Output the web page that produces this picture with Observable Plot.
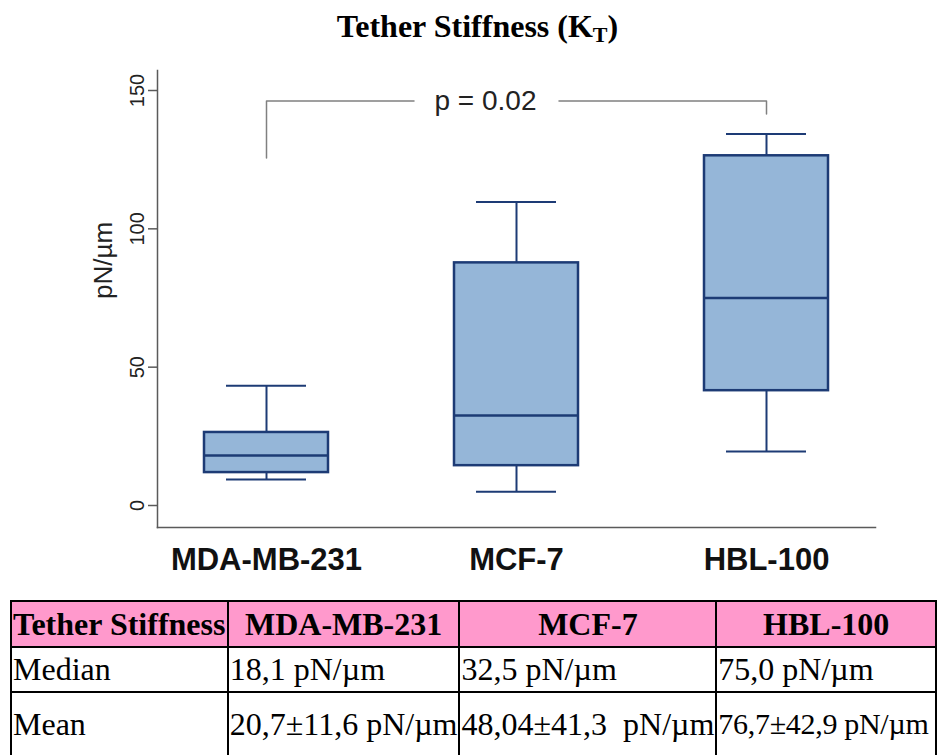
<!DOCTYPE html>
<html>
<head>
<meta charset="utf-8">
<script src="https://cdn.jsdelivr.net/npm/d3@7"></script>
<script src="https://cdn.jsdelivr.net/npm/@observablehq/plot@0.6"></script>
<style>
  html, body { margin: 0; padding: 0; background: #fff; overflow: hidden; }
  body { width: 937px; height: 755px; position: relative; }
  #title { height: 50px; line-height: 52px; text-align: center; padding-left: 18px; font-family: "Liberation Serif", "Times New Roman", serif; font-weight: bold; font-size: 32px; color: #000; }
  #title sub { font-size: 22px; vertical-align: -5px; line-height: 0; }
  #chart svg { display: block; }
  table { border-collapse: collapse; margin-left: 10px; margin-top: 20px; font-family: "Liberation Serif", "Times New Roman", serif; font-size: 32px; table-layout: fixed; }
  td, th { border: 2px solid #000; padding: 0 1px; white-space: pre; overflow: hidden; }
  th { background: #ff99cc; font-weight: bold; height: 44px; }
  th.first { text-align: left; }
  tr.r1 td { height: 43px; }
  tr.r2 td { height: 62px; }
  tr.r2 td:last-child { font-size: 30px; letter-spacing: -0.3px; }
</style>
</head>
<body>
<div id="title">Tether Stiffness (K<sub>T</sub>)</div>
<div id="chart"></div>
<table id="tbl"></table>
<script>
// ---- data ----
const categories = ["MDA-MB-231", "MCF-7", "HBL-100"];
const whiskerLow  = [9.4, 5.0, 19.5];
const q1          = [11.9, 14.4, 41.5];
const median      = [18.1, 32.5, 75.0];
const q3          = [26.4, 87.7, 126.4];
const whiskerHigh = [43.3, 109.7, 134.3];
const yTicks = [0, 50, 100, 150];
const yLabel = "pN/µm";
const pLabel = "p = 0.02";
const bracketLeft  = [{x: 0, y: 125.6}, {x: 0, y: 146.2}, {x: 0.59, y: 146.2}];
const bracketRight = [{x: 1.17, y: 146.2}, {x: 2, y: 146.2}, {x: 2, y: 141.5}];
const pLabelPos = [{x: 0.876, y: 146.2}];

const tableHeader = ["Tether Stiffness", "MDA-MB-231", "MCF-7", "HBL-100"];
const tableMedian = ["Median", "18,1 pN/µm", "32,5 pN/µm", "75,0 pN/µm"];
const tableMean   = ["Mean", "20,7±11,6 pN/µm", "48,04±41,3  pN/µm", "76,7±42,9 pN/µm"];
const colWidths = [219, 229, 246, 260];

// ---- chart ----
const boxes = categories.map((c, i) => ({i, c, lo: whiskerLow[i], q1: q1[i], med: median[i], q3: q3[i], hi: whiskerHigh[i]}));
const halfBox = 0.248, halfCap = 0.16;
const boxFill = "#95b6d8", boxStroke = "#1d3b75", axisColor = "#5a5a5a";

const plot = Plot.plot({
  width: 937,
  height: 530,
  marginLeft: 157,
  marginRight: 62,
  marginTop: 20,
  marginBottom: 53,
  style: {fontFamily: "'Liberation Sans', Arial, sans-serif", color: "#222", background: "#fff"},
  x: {domain: [-0.436, 2.436]},
  y: {domain: [-7.95, 157.23]},
  marks: [
    Plot.frame({anchor: "left", stroke: axisColor, strokeWidth: 1.5}),
    Plot.frame({anchor: "bottom", stroke: axisColor, strokeWidth: 1.5}),
    Plot.axisY({ticks: yTicks, tickSize: 9, tickPadding: 5, tickRotate: -90, fontSize: 20, stroke: axisColor, strokeWidth: 1.5, label: null}),
    Plot.text([yLabel], {frameAnchor: "left", rotate: -90, dx: -54, fontSize: 26, fill: "#222", text: d => d}),
    Plot.axisX({ticks: [0, 1, 2], tickFormat: i => categories[i], tickSize: 0, tickPadding: 20, fontSize: 31, fontWeight: "bold", fill: "#111", label: null}),
    // whiskers
    Plot.ruleX(boxes, {x: "i", y1: "q3", y2: "hi", stroke: boxStroke, strokeWidth: 2}),
    Plot.ruleX(boxes, {x: "i", y1: "lo", y2: "q1", stroke: boxStroke, strokeWidth: 2}),
    Plot.ruleY(boxes, {y: "hi", x1: d => d.i - halfCap, x2: d => d.i + halfCap, stroke: boxStroke, strokeWidth: 2}),
    Plot.ruleY(boxes, {y: "lo", x1: d => d.i - halfCap, x2: d => d.i + halfCap, stroke: boxStroke, strokeWidth: 2}),
    // boxes
    Plot.rectY(boxes, {x1: d => d.i - halfBox, x2: d => d.i + halfBox, y1: "q1", y2: "q3", fill: boxFill, stroke: boxStroke, strokeWidth: 2.5}),
    Plot.ruleY(boxes, {y: "med", x1: d => d.i - halfBox, x2: d => d.i + halfBox, stroke: boxStroke, strokeWidth: 2.5}),
    // significance bracket
    Plot.line(bracketLeft, {x: "x", y: "y", stroke: "#808080", strokeWidth: 1.5}),
    Plot.line(bracketRight, {x: "x", y: "y", stroke: "#808080", strokeWidth: 1.5}),
    Plot.text(pLabelPos, {x: "x", y: "y", text: () => pLabel, fontSize: 28, fill: "#222"})
  ]
});
document.getElementById("chart").appendChild(plot);

// ---- table ----
const tbl = document.getElementById("tbl");
const cg = document.createElement("colgroup");
colWidths.forEach(w => { const c = document.createElement("col"); c.style.width = w + "px"; cg.appendChild(c); });
tbl.appendChild(cg);
const trh = document.createElement("tr");
tableHeader.forEach((t, i) => { const th = document.createElement("th"); th.textContent = t; if (i === 0) th.className = "first"; trh.appendChild(th); });
tbl.appendChild(trh);
[[tableMedian, "r1"], [tableMean, "r2"]].forEach(([row, cls]) => {
  const tr = document.createElement("tr"); tr.className = cls;
  row.forEach(t => { const td = document.createElement("td"); td.textContent = t; tr.appendChild(td); });
  tbl.appendChild(tr);
});
</script>
</body>
</html>
